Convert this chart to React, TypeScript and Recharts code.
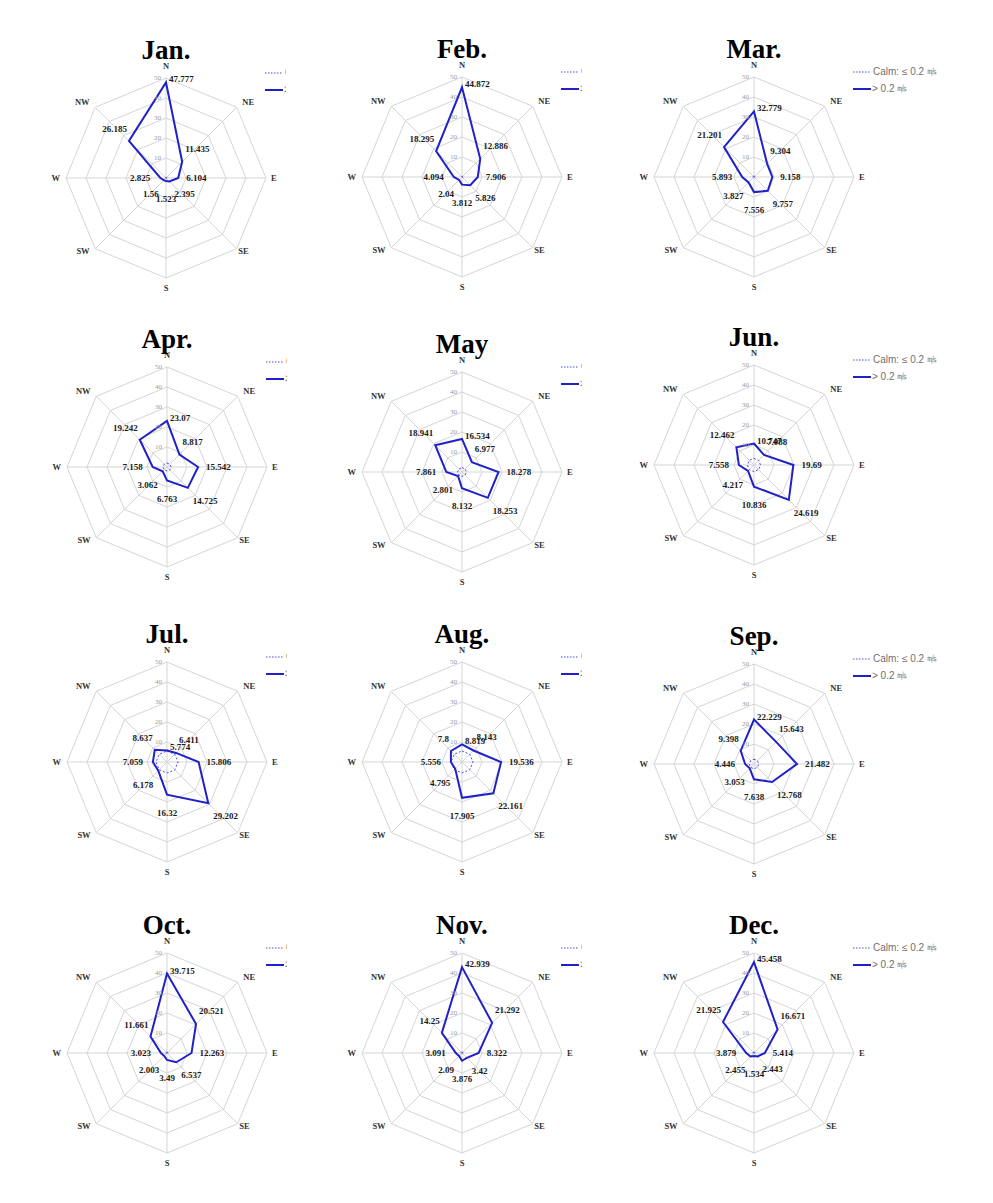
import React from 'react';
import { RadarChart, Radar, PolarGrid, PolarAngleAxis, PolarRadiusAxis, Legend } from 'recharts';

// ---------- data ----------
const directions = ['N', 'NE', 'E', 'SE', 'S', 'SW', 'W', 'NW'];
const monthTitles = ['Jan.', 'Feb.', 'Mar.', 'Apr.', 'May', 'Jun.', 'Jul.', 'Aug.', 'Sep.', 'Oct.', 'Nov.', 'Dec.'];

const janWind = [47.777, 11.435, 6.104, 2.395, 1.523, 1.56, 2.825, 26.185];
const febWind = [44.872, 12.886, 7.906, 5.826, 3.812, 2.04, 4.094, 18.295];
const marWind = [32.779, 9.304, 9.158, 9.757, 7.556, 3.827, 5.893, 21.201];
const aprWind = [23.07, 8.817, 15.542, 14.725, 6.763, 3.062, 7.158, 19.242];
const mayWind = [16.534, 6.977, 18.278, 18.253, 8.132, 2.801, 7.861, 18.941];
const junWind = [10.747, 7.088, 19.69, 24.619, 10.836, 4.217, 7.558, 12.462];
const julWind = [5.774, 6.411, 15.806, 29.202, 16.32, 6.178, 7.059, 8.637];
const augWind = [8.819, 8.143, 19.536, 22.161, 17.905, 4.795, 5.556, 7.8];
const sepWind = [22.229, 15.643, 21.482, 12.768, 7.638, 3.053, 4.446, 9.398];
const octWind = [39.715, 20.521, 12.263, 6.537, 3.49, 2.003, 3.023, 11.661];
const novWind = [42.939, 21.292, 8.322, 3.42, 3.876, 2.09, 3.091, 14.25];
const decWind = [45.458, 16.671, 5.414, 2.443, 1.534, 2.455, 3.879, 21.925];

const monthlyWind = [janWind, febWind, marWind, aprWind, mayWind, junWind, julWind, augWind, sepWind, octWind, novWind, decWind];

// calm share (same in every direction), estimated from the dotted rings
const calmPct = [0.4, 0.4, 0.5, 2.0, 2.2, 3.3, 5.5, 5.5, 2.4, 0.5, 0.5, 0.5];

const radiusTicks = [0, 10, 20, 30, 40, 50];
const seriesNames = ['Calm: ≤ 0.2 ㎧', '> 0.2 ㎧'];

// ---------- layout (page coordinates of each chart centre) ----------
const CENTERS: [number, number][] = [
  [166, 178], [462, 177], [754, 177],
  [167, 467], [462, 472], [754, 465],
  [167, 762], [462, 762], [754, 764],
  [167, 1053], [462, 1053], [754, 1053],
];

const CX = 150;
const CY = 150;
const R = 100;
const SERIF = '"Liberation Serif", "Times New Roman", serif';
const WIND_COLOR = '#2121c9';
const CALM_COLOR = '#4a4ae8';

// label offsets relative to each data point, per direction
const LABEL_OFFSETS = [
  { dx: 3, dy: -3, anchor: 'start' },
  { dx: 3, dy: -13, anchor: 'start' },
  { dx: 8, dy: 0, anchor: 'start' },
  { dx: 5, dy: 13, anchor: 'start' },
  { dx: 0, dy: 18, anchor: 'middle' },
  { dx: -5, dy: 14, anchor: 'end' },
  { dx: -10, dy: 0, anchor: 'end' },
  { dx: -2, dy: -12, anchor: 'end' },
];

const ANGLE_LABEL_ADJ = [
  { dx: 0, dy: -4 },
  { dx: 0, dy: 0 },
  { dx: -3, dy: 0 },
  { dx: -4, dy: -3 },
  { dx: 0, dy: 2 },
  { dx: 0, dy: -3 },
  { dx: 2, dy: 0 },
  { dx: 0, dy: 0 },
];

const AngleTick = (props: any) => {
  const { x, y, payload } = props;
  const i = directions.indexOf(payload.value);
  const anchor = i === 0 || i === 4 ? 'middle' : i < 4 ? 'start' : 'end';
  const adj = ANGLE_LABEL_ADJ[i] || { dx: 0, dy: 0 };
  return (
    <text
      x={x + adj.dx}
      y={y + adj.dy}
      textAnchor={anchor}
      dominantBaseline="central"
      fontFamily={SERIF}
      fontWeight="bold"
      fontSize={8.5}
      fill="#333"
    >
      {payload.value}
    </text>
  );
};

const RadiusTick = (props: any) => {
  const { x, y, payload } = props;
  if (!payload || payload.value === 0) return <g />;
  return (
    <text x={x - 5} y={y} textAnchor="end" dominantBaseline="central" fontFamily={SERIF} fontSize={7} fill="#9a9a9a">
      {payload.value}
    </text>
  );
};

const makeValueLabel = (values: number[]) => (props: any) => {
  const { cx, cy, index } = props;
  const o = LABEL_OFFSETS[index];
  return (
    <text
      key={`lbl-${index}`}
      x={cx + o.dx}
      y={cy + o.dy}
      textAnchor={o.anchor as any}
      dominantBaseline="central"
      fontFamily={SERIF}
      fontWeight="bold"
      fontSize={9}
      fill="#1a1a1a"
    >
      {String(values[index])}
    </text>
  );
};

const LegendContent = () => (
  <div style={{ fontFamily: '"Liberation Sans", Arial, sans-serif', fontSize: 10, color: '#6f6f6f', whiteSpace: 'nowrap' }}>
    <div style={{ height: 17, display: 'flex', alignItems: 'center' }}>
      <svg width={18} height={4} style={{ display: 'block' }}>
        <line x1={0} y1={2} x2={18} y2={2} stroke={CALM_COLOR} strokeWidth={1} strokeDasharray="1.5 1.5" />
      </svg>
      <span style={{ marginLeft: 2 }}>{seriesNames[0]}</span>
    </div>
    <div style={{ height: 17, display: 'flex', alignItems: 'center' }}>
      <svg width={18} height={4} style={{ display: 'block' }}>
        <line x1={0} y1={2} x2={18} y2={2} stroke={WIND_COLOR} strokeWidth={2} />
      </svg>
      <span style={{ marginLeft: 1 }}>{seriesNames[1]}</span>
    </div>
  </div>
);

function WindRose({ m }: { m: number }) {
  const values = monthlyWind[m];
  const data = directions.map((d, i) => ({ dir: d, wind: values[i], calm: calmPct[m] }));
  const [px, py] = CENTERS[m];
  const col = m % 3;
  const W = col === 2 ? 360 : 270;
  const H = 290;
  return (
    <div style={{ position: 'absolute', left: px - CX, top: py - CY, width: W, height: H, overflow: 'hidden' }}>
      <RadarChart
        width={W}
        height={H}
        cx={CX}
        cy={CY}
        outerRadius={R}
        data={data}
        margin={{ top: 0, right: 0, bottom: 0, left: 0 }}
      >
        <PolarGrid stroke="#d5d5d5" strokeWidth={1} />
        <PolarAngleAxis dataKey="dir" tick={AngleTick} tickLine={false} axisLine={false} />
        <PolarRadiusAxis
          angle={90}
          domain={[0, 50]}
          ticks={radiusTicks as any}
          tickCount={6}
          axisLine={false}
          tickLine={false}
          tick={RadiusTick}
        />
        <Radar
          name={seriesNames[0]}
          dataKey="calm"
          stroke={CALM_COLOR}
          strokeWidth={1}
          strokeDasharray="2 2"
          fill="none"
          fillOpacity={0}
          dot={false}
          isAnimationActive={false}
        />
        <Radar
          name={seriesNames[1]}
          dataKey="wind"
          stroke={WIND_COLOR}
          strokeWidth={2}
          fill="none"
          fillOpacity={0}
          dot={makeValueLabel(values)}
          isAnimationActive={false}
        />
        <Legend content={LegendContent} wrapperStyle={{ left: CX + 99, top: CY - 114, width: 140 }} />
      </RadarChart>
      <div
        style={{
          position: 'absolute',
          left: 0,
          top: CY - 141,
          width: 300,
          textAlign: 'center',
          fontFamily: SERIF,
          fontWeight: 'bold',
          fontSize: 27,
          lineHeight: '27px',
          color: '#000',
          pointerEvents: 'none',
        }}
      >
        {monthTitles[m]}
      </div>
    </div>
  );
}

export default function App() {
  return (
    <div style={{ position: 'absolute', left: 0, top: 0, width: 993, height: 1203, background: '#fff' }}>
      {monthTitles.map((_, m) => (
        <WindRose key={m} m={m} />
      ))}
    </div>
  );
}
